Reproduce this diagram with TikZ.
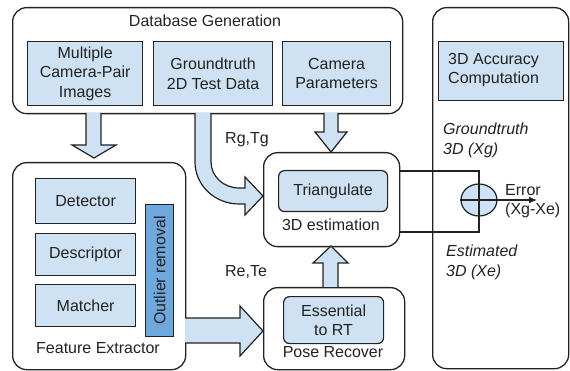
\documentclass[tikz,border=0pt]{standalone}
\usepackage{fontspec}
\setmainfont{Liberation Sans}
\usetikzlibrary{arrows.meta,calc,shapes.geometric}
\definecolor{lb}{HTML}{CFE2F3}
\definecolor{db}{HTML}{6FA8DC}
\definecolor{ln}{HTML}{222222}
\tikzset{
  grp/.style={draw=ln, rounded corners=14pt, line width=1.3pt, inner sep=0pt, anchor=north west},
  blk/.style={draw=ln, fill=lb, line width=1.2pt, inner sep=0pt, anchor=north west},
  rblk/.style={blk, rounded corners=6pt},
  txt/.style={inner sep=0pt, align=center, font=\fontsize{16}{19.5}\selectfont, text=ln},
  itx/.style={inner sep=0pt, align=left, font=\fontsize{16}{20}\selectfont\itshape, text=ln},
  barrow/.style={draw=ln, fill=lb, line width=1.2pt, line join=miter},
  thin/.style={draw=ln, line width=1.2pt}
}
\begin{document}
\begin{tikzpicture}[x=1pt,y=-1pt]
\useasboundingbox (0,0) rectangle (570,371);
% groups
\node[grp, minimum width=390pt, minimum height=106pt] (dbg) at (12,7) {};
\node[txt] (dbt) at (205,21) {Database Generation};
\node[grp, minimum width=136pt, minimum height=361pt] (accg) at (432,7) {};
\node[grp, minimum width=173pt, minimum height=207pt] (feg) at (12,162) {};
\node[txt] (fet) at (98,348) {Feature Extractor};
\node[grp, minimum width=136pt, minimum height=94pt] (estg) at (263,152) {};
\node[txt] (estt) at (331,225) {3D estimation};
\node[grp, minimum width=141pt, minimum height=82pt] (posg) at (263,287) {};
\node[txt] (post) at (333,352) {Pose Recover};
% blocks
\node[blk, minimum width=115pt, minimum height=64pt] (mcp) at (27,41) {};
\node[txt] at (mcp.center) {Multiple\\Camera-Pair\\Images};
\node[blk, minimum width=119pt, minimum height=64pt] (gt) at (153,41) {};
\node[txt] at (gt.center) {Groundtruth\\2D Test Data};
\node[blk, minimum width=108pt, minimum height=64pt] (cam) at (282,41) {};
\node[txt] at (cam.center) {Camera\\Parameters};
\node[blk, minimum width=125pt, minimum height=59pt] (acc) at (438,41) {};
\node[txt, align=left, anchor=west] (acct) at (448,70) {3D Accuracy\\Computation};
\node[blk, minimum width=100pt, minimum height=45pt] (det) at (35,178) {};
\node[txt] at (det.center) {Detector};
\node[blk, minimum width=100pt, minimum height=42pt] (desc) at (35,233) {};
\node[txt] at (desc.center) {Descriptor};
\node[blk, minimum width=100pt, minimum height=42pt] (mat) at (35,284) {};
\node[txt] at (mat.center) {Matcher};
\node[blk, fill=db, minimum width=28pt, minimum height=132pt] (out) at (145,204) {};
\node[txt, rotate=90] at (out.center) {Outlier removal};
\node[rblk, minimum width=109pt, minimum height=41pt] (tri) at (278,170) {};
\node[txt] at (tri.center) {Triangulate};
\node[rblk, minimum width=100pt, minimum height=47pt] (ess) at (283,296) {};
\node[txt] at (ess.center) {Essential\\to RT};
% labels
\node[txt] (rg) at (247,140) {Rg,Tg};
\node[txt] (re) at (246,272) {Re,Te};
\node[itx, anchor=west] (gx) at (443,140) {Groundtruth\\3D (Xg)};
\node[itx, anchor=west] (ex) at (446,262) {Estimated\\3D (Xe)};
\node[txt, align=left, anchor=west] (err) at (505,201) {Error\\(Xg-Xe)};
% block arrows
\draw[barrow] (86,113) -- (86,145) -- (72,145) -- (94,158) -- (116,145) -- (101,145) -- (101,113);
\draw[barrow] (324,113) -- (324,132) -- (315,132) -- (331,152) -- (347,132) -- (338,132) -- (338,113);
\draw[barrow] (323,287) -- (323,263) -- (313,263) -- (331,246) -- (348,263) -- (338,263) -- (338,287);
\draw[barrow] (185,318) -- (240,318) -- (240,306) -- (263,331) -- (240,356) -- (240,343) -- (185,343);
\draw[barrow] (195,113) -- (195,162) arc[start angle=180, end angle=90, x radius=44pt, y radius=-42pt] -- (245,204) -- (245,215) -- (263,196) -- (245,177) -- (245,188) -- (239,188) arc[start angle=90, end angle=180, x radius=28pt, y radius=-26pt] -- (211,113);
% error lines
\coordinate (sum) at (479,200);
\draw[thin] (estg.east |- 0,171) -- (479,171) -- (479,232) -- (estg.east |- 0,232);
\node[draw=ln, fill=lb, line width=1.2pt, ellipse, minimum width=36pt, minimum height=32pt, inner sep=0pt] (circ) at (sum) {};
\draw[thin] (circ.north) -- (circ.south);
\draw[thin, -{Latex[length=8pt,width=7pt]}] (circ.west) -- (537,200);
\end{tikzpicture}
\end{document}
